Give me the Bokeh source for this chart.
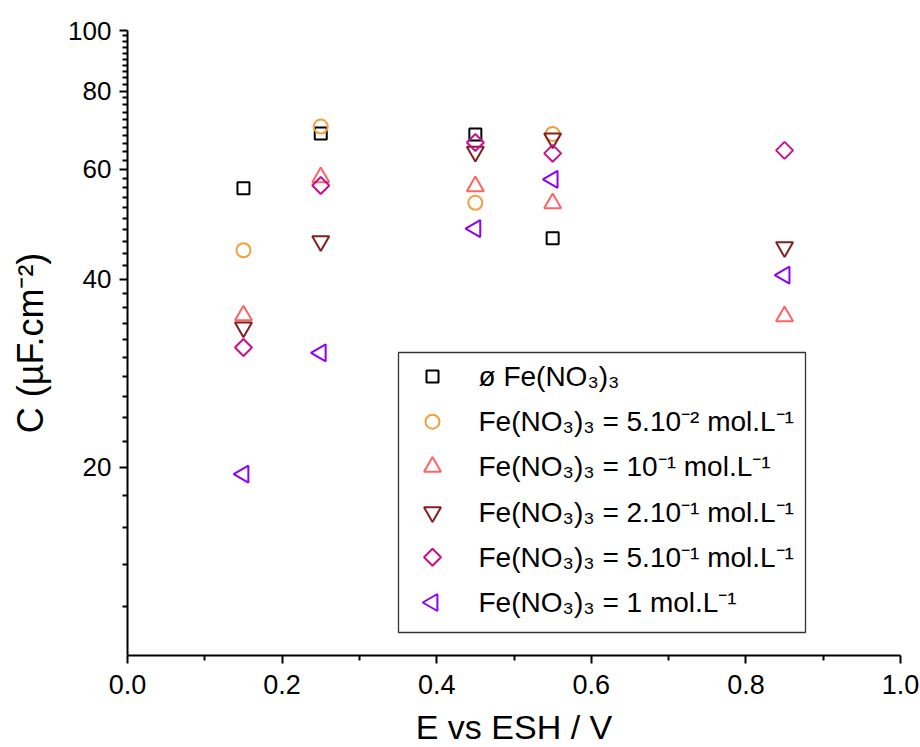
import numpy as np
from bokeh.plotting import figure
from bokeh.models import FixedTicker, PrintfTickFormatter, Range1d, LinearScale
from bokeh.core.properties import value
from bokeh.embed import file_html
from bokeh.resources import INLINE

# ---- data ----
E = [0.15, 0.25, 0.45, 0.55, 0.85]
series_labels = [
    "ø Fe(NO₃)₃",
    "Fe(NO₃)₃ = 5.10⁻² mol.L⁻¹",
    "Fe(NO₃)₃ = 10⁻¹ mol.L⁻¹",
    "Fe(NO₃)₃ = 2.10⁻¹ mol.L⁻¹",
    "Fe(NO₃)₃ = 5.10⁻¹ mol.L⁻¹",
    "Fe(NO₃)₃ = 1 mol.L⁻¹",
]
c_none = [55.9, 68.4, 68.2, 46.5, None]
c_5e2 = [44.5, 70.2, 53.0, 68.3, None]
c_1e1 = [35.0, 58.2, 56.3, 52.9, 34.9]
c_2e1 = [33.5, 46.0, 64.0, 67.2, 45.0]
c_5e1 = [31.1, 56.5, 66.2, 63.6, 64.3]
c_1 = [19.5, 30.5, 48.2, 57.8, 40.6]

x_ticks = [0.0, 0.2, 0.4, 0.6, 0.8, 1.0]
x_minor = [0.1, 0.3, 0.5, 0.7, 0.9]
y_ticks = [20, 40, 60, 80, 100]
y_minor = [v for v in range(12, 100, 2) if v not in y_ticks]

FONT = "Liberation Sans"
FW, FH = 773, 625  # frame size in px

p = figure(frame_width=FW, frame_height=FH, y_axis_type="log",
           x_range=(0, 1), y_range=(10, 100),
           output_backend="svg", toolbar_location=None,
           min_border_left=127, min_border_right=20,
           min_border_top=30, min_border_bottom=92)
p.grid.visible = False
p.outline_line_color = None
p.background_fill_color = "white"

p.xaxis.ticker = FixedTicker(ticks=x_ticks, minor_ticks=x_minor)
p.xaxis.formatter = PrintfTickFormatter(format="%.1f")
p.yaxis.ticker = FixedTicker(ticks=y_ticks, minor_ticks=y_minor)
p.yaxis.formatter = PrintfTickFormatter(format="%d")

for ax in (p.xaxis[0], p.yaxis[0]):
    ax.axis_line_width = 2
    ax.axis_line_color = "black"
    ax.major_tick_line_width = 2
    ax.minor_tick_line_width = 2
    ax.major_tick_out = 8
    ax.major_tick_in = 0
    ax.minor_tick_out = 5
    ax.minor_tick_in = 0
    ax.major_label_text_font = FONT
    ax.axis_label_text_font = FONT
    ax.axis_label_text_font_style = "normal"
    ax.major_label_text_color = "black"
    ax.axis_label_text_color = "black"

p.xaxis.axis_label = "E vs ESH / V"
p.xaxis.major_label_text_font_size = "27px"
p.xaxis.axis_label_text_font_size = "34px"
p.xaxis.major_label_standoff = 11
p.xaxis.axis_label_standoff = 11

p.yaxis.axis_label = "C (µF.cm⁻²)"
p.yaxis.major_label_text_font_size = "26px"
p.yaxis.axis_label_text_font_size = "36px"
p.yaxis.major_label_standoff = 8
p.yaxis.axis_label_standoff = 14

colors = ["#000000", "#F0A040", "#FF6464", "#802020", "#C8108C", "#8C00FF"]
data = [c_none, c_5e2, c_1e1, c_2e1, c_5e1, c_1]
markers = ["square", "circle", "triangle", "inverted_triangle", "square", "triangle"]
angles = [0, 0, 0, 0, np.pi / 4, np.pi / 2]
sizes = [12, 14, 17, 17, 12, 17]

for ys, col, mk, ang, sz in zip(data, colors, markers, angles, sizes):
    xs = [x for x, y in zip(E, ys) if y is not None]
    yv = [y for y in ys if y is not None]
    p.scatter(xs, yv, marker=mk, size=sz, angle=ang,
              fill_color=None, line_color=col, line_width=2)

# ---- legend drawn in a linear pixel coordinate system of the frame ----
p.extra_x_ranges["px"] = Range1d(0, FW)
p.extra_y_ranges["py"] = Range1d(0, FH)
p.extra_x_scales["px"] = LinearScale()
p.extra_y_scales["py"] = LinearScale()
L_LEFT, L_RIGHT, L_TOP, L_BOTTOM = 271, 678, 303, 23
ROW0, PITCH = 279, 45.2
SYM_X, TXT_X = 305, 351
rows = [ROW0 - i * PITCH for i in range(len(series_labels))]

p.quad(left=[L_LEFT], right=[L_RIGHT], top=[L_TOP], bottom=[L_BOTTOM],
       fill_color="white", line_color="#333333", line_width=1.3,
       x_range_name="px", y_range_name="py")
for yy, col, mk, ang, sz in zip(rows, colors, markers, angles, sizes):
    p.scatter([SYM_X], [yy], marker=mk, size=sz, angle=ang,
              fill_color=None, line_color=col, line_width=2,
              x_range_name="px", y_range_name="py")
p.text(x=[TXT_X] * len(rows), y=rows, text=series_labels,
       text_font=value(FONT), text_font_size="28px", text_color="black",
       text_baseline="middle", text_align="left",
       x_range_name="px", y_range_name="py")

open("out.html", "w").write(file_html(p, INLINE))
